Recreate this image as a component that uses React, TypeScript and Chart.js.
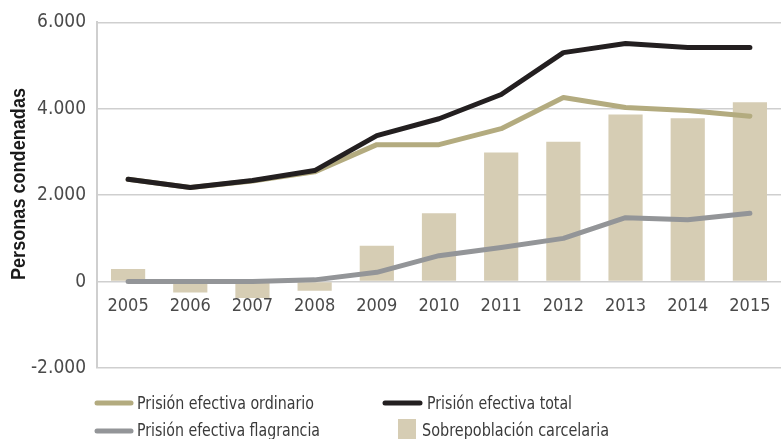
import React, { useEffect, useRef } from "react";
import { Chart, registerables } from "chart.js";

Chart.register(...registerables);

const years = ["2005", "2006", "2007", "2008", "2009", "2010", "2011", "2012", "2013", "2014", "2015"];
const totalSeries = [2370, 2180, 2340, 2570, 3380, 3770, 4330, 5300, 5510, 5420, 5420];
const ordinarioSeries = [2370, 2180, 2330, 2540, 3170, 3170, 3540, 4260, 4030, 3960, 3830];
const flagranciaSeries = [0, 0, 0, 40, 215, 600, 790, 1000, 1480, 1430, 1580];
const sobrepoblacionSeries = [290, -250, -380, -210, 830, 1580, 2990, 3240, 3870, 3780, 4150];
const yTicks = [-2000, 0, 2000, 4000, 6000];

const legendLabels = [
  "Prisión efectiva ordinario",
  "Prisión efectiva total",
  "Prisión efectiva flagrancia",
  "Sobrepoblación carcelaria",
];
const axisTitle = "Personas condenadas";

const C_TOTAL = "#231f20";
const C_ORD = "#b3ab7f";
const C_FLAG = "#939598";
const C_BAR = "#d6cdb4";
const FONT = "'Liberation Sans Narrow', 'DejaVu Sans Condensed', 'Liberation Sans', sans-serif";

function fmt(v: number): string {
  const s = Math.abs(v).toString().replace(/\B(?=(\d{3})+(?!\d))/g, ".");
  return (v < 0 ? "-" : "") + s;
}

const overlayPlugin = {
  id: "overlay",
  afterDraw(chart: any) {
    const ctx = chart.ctx as CanvasRenderingContext2D;
    ctx.save();
    // y title
    ctx.save();
    ctx.translate(19, 184);
    ctx.rotate(-Math.PI / 2);
    ctx.font = "bold 21px 'Liberation Sans', sans-serif";
    ctx.fillStyle = "#1a1a1a";
    ctx.textAlign = "center";
    ctx.textBaseline = "middle";
    ctx.fillText(axisTitle, 0, 0, 192);
    ctx.restore();

    ctx.font = "18px " + FONT;
    ctx.fillStyle = "#3a3a3a";
    ctx.textBaseline = "middle";
    ctx.textAlign = "left";
    const line = (x1: number, x2: number, y: number, c: string) => {
      ctx.beginPath();
      ctx.strokeStyle = c;
      ctx.lineWidth = 5;
      ctx.lineCap = "round";
      ctx.moveTo(x1, y);
      ctx.lineTo(x2, y);
      ctx.stroke();
    };
    line(97, 131, 403, C_ORD);
    ctx.fillText(legendLabels[0], 137, 404, 177);
    line(385, 420, 403, C_TOTAL);
    ctx.fillText(legendLabels[1], 427, 404, 145);
    line(97, 131, 431, C_FLAG);
    ctx.fillText(legendLabels[2], 137, 431, 183);
    ctx.fillStyle = C_BAR;
    ctx.fillRect(398, 419, 18, 20);
    ctx.fillStyle = "#3a3a3a";
    ctx.fillText(legendLabels[3], 422, 431, 187);
    ctx.restore();
  },
};

export default function App() {
  const ref = useRef<HTMLCanvasElement>(null);
  useEffect(() => {
    document.body.style.margin = "0";
    const chart = new Chart(ref.current as HTMLCanvasElement, {
      type: "bar",
      data: {
        labels: years,
        datasets: [
          {
            type: "line",
            label: legendLabels[1],
            data: totalSeries,
            borderColor: C_TOTAL,
            borderWidth: 5,
            pointRadius: 0,
            borderCapStyle: "round",
            borderJoinStyle: "round",
            tension: 0,
            order: 0,
          },
          {
            type: "line",
            label: legendLabels[0],
            data: ordinarioSeries,
            borderColor: C_ORD,
            borderWidth: 5,
            pointRadius: 0,
            borderCapStyle: "round",
            borderJoinStyle: "round",
            tension: 0,
            order: 1,
          },
          {
            type: "line",
            label: legendLabels[2],
            data: flagranciaSeries,
            borderColor: C_FLAG,
            borderWidth: 5,
            pointRadius: 0,
            borderCapStyle: "round",
            borderJoinStyle: "round",
            tension: 0,
            order: 2,
          },
          {
            type: "bar",
            label: legendLabels[3],
            data: sobrepoblacionSeries,
            backgroundColor: C_BAR,
            barPercentage: 0.55,
            categoryPercentage: 1,
            order: 3,
          },
        ],
      } as any,
      options: {
        animation: false,
        responsive: false,
        maintainAspectRatio: false,
        layout: { padding: { left: 0, right: 3, top: 13, bottom: 71 } },
        plugins: {
          legend: { display: false },
          tooltip: { enabled: false },
          title: { display: false },
        },
        scales: {
          x: {
            position: { y: 0 } as any,
            offset: true,
            grid: { display: false },
            border: { display: false },
            ticks: {
              color: "#4a4a4a",
              font: { family: FONT, size: 18 },
              padding: 6,
              maxRotation: 0,
            },
          },
          y: {
            min: -2000,
            max: 6000,
            afterFit: (s: any) => {
              s.width = 97;
            },
            afterBuildTicks: (s: any) => {
              s.ticks = yTicks.map((v) => ({ value: v }));
            },
            grid: {
              color: "#cfcfcf",
              lineWidth: 1.5,
              drawTicks: false,
            },
            border: { display: true, color: "#cfcfcf", width: 2 },
            ticks: {
              color: "#4a4a4a",
              font: { family: FONT, size: 19 },
              padding: 11,
              callback: (v: any) => fmt(Number(v)),
            },
          },
        },
      },
      plugins: [overlayPlugin],
    });
    return () => chart.destroy();
  }, []);
  return <canvas ref={ref} width={784} height={439} style={{ display: "block" }} />;
}
